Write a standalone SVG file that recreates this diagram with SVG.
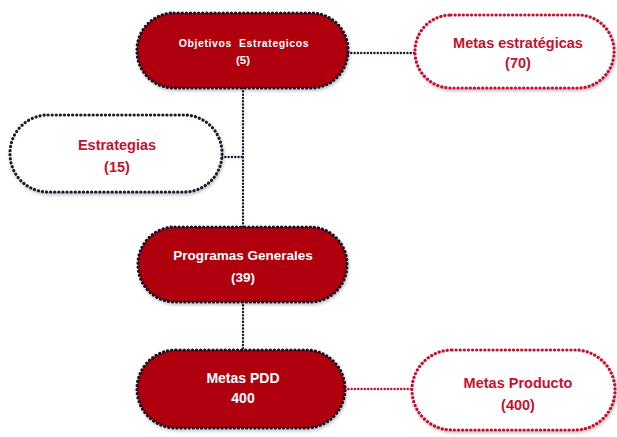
<svg xmlns="http://www.w3.org/2000/svg" width="617" height="437" viewBox="0 0 617 437">
<defs>
<filter id="sh" x="-10%" y="-10%" width="120%" height="130%"><feDropShadow dx="1" dy="2" stdDeviation="1.5" flood-color="#000" flood-opacity="0.25"/></filter>
</defs>
<style>
.red{fill:#b0000c;stroke:#1a1020;stroke-width:3.2;stroke-dasharray:0.1 4;stroke-linecap:round;filter:url(#sh)}
.wb{fill:#fff;stroke:#1a1a2a;stroke-width:3.2;stroke-dasharray:0.1 4;stroke-linecap:round;filter:url(#sh)}
.wr{fill:#fff;stroke:#c8102e;stroke-width:3.2;stroke-dasharray:0.1 4;stroke-linecap:round;filter:url(#sh)}
.c{fill:none;stroke:#1a1a3a;stroke-width:2.4;stroke-dasharray:0.1 3.2;stroke-linecap:round}
.cr{fill:none;stroke:#c8102e;stroke-width:2.4;stroke-dasharray:0.1 3.2;stroke-linecap:round}
text{font-family:"Liberation Sans",Arial,sans-serif;font-weight:bold;text-anchor:middle}
.tw{fill:#fff}
.tr{fill:#c8102e}
</style>
<rect width="617" height="437" fill="#fff"/>
<g id="connectors">
<line class="c" x1="348" y1="53" x2="415" y2="53"/>
<line class="c" x1="243" y1="88" x2="243" y2="227"/>
<line class="c" x1="222" y1="157" x2="243" y2="157"/>
<line class="c" x1="243" y1="302" x2="243" y2="350"/>
<line class="cr" x1="345" y1="389" x2="412" y2="389"/>
</g>
<g id="objetivos">
<rect class="red" x="137" y="13" width="211" height="75" rx="37"/>
<text class="tw" x="244" y="47" font-size="10.5" letter-spacing="0.6" xml:space="preserve">Objetivos  Estrategicos</text>
<text class="tw" x="243" y="64" font-size="11.5">(5)</text>
</g>
<g id="metas-estrategicas">
<rect class="wr" x="415" y="15" width="199" height="73" rx="36"/>
<text class="tr" x="518" y="48" font-size="14.5">Metas estratégicas</text>
<text class="tr" x="518" y="68" font-size="14.5">(70)</text>
</g>
<g id="estrategias">
<rect class="wb" x="10" y="115" width="212" height="77" rx="38"/>
<text class="tr" x="117" y="150" font-size="14.5">Estrategias</text>
<text class="tr" x="117" y="172" font-size="14.5">(15)</text>
</g>
<g id="programas">
<rect class="red" x="138" y="227" width="209" height="75" rx="37"/>
<text class="tw" x="243" y="260" font-size="13.5">Programas Generales</text>
<text class="tw" x="243" y="282" font-size="13.5">(39)</text>
</g>
<g id="metas-pdd">
<rect class="red" x="137" y="350" width="208" height="78" rx="39"/>
<text class="tw" x="243" y="383" font-size="14">Metas PDD</text>
<text class="tw" x="243" y="403" font-size="14">400</text>
</g>
<g id="metas-producto">
<rect class="wr" x="412" y="350" width="203" height="80" rx="40"/>
<text class="tr" x="518" y="388" font-size="14.5">Metas Producto</text>
<text class="tr" x="518" y="410" font-size="14.5">(400)</text>
</g>
</svg>
